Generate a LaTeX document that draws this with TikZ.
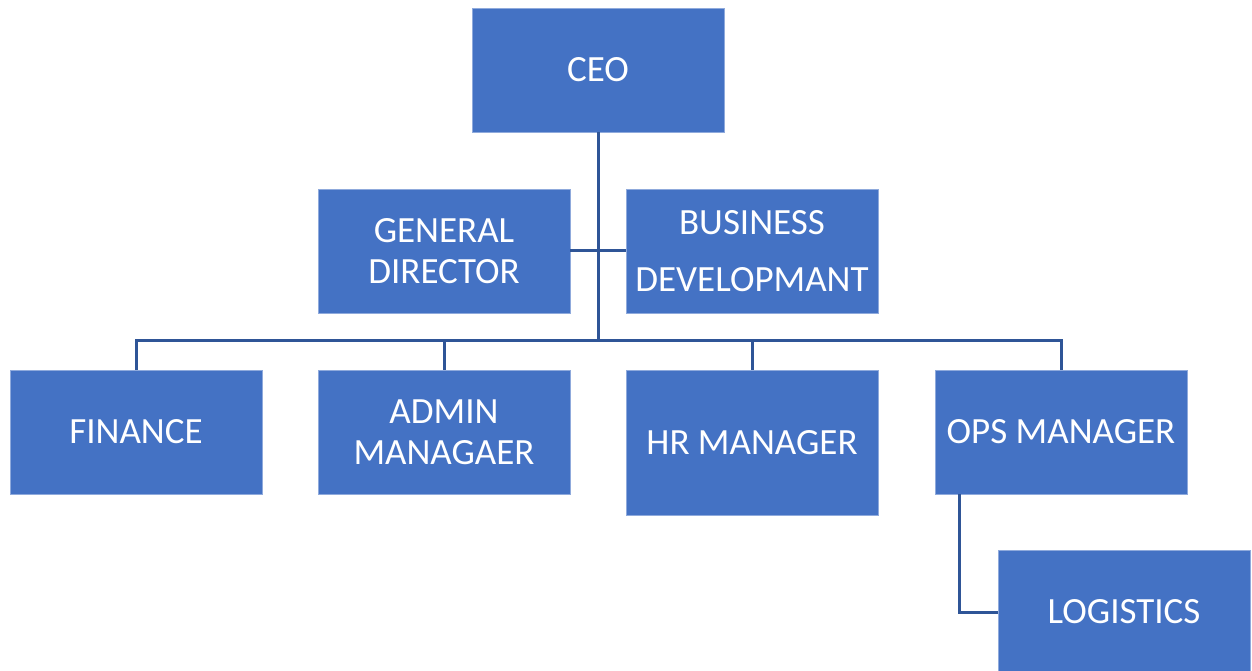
\documentclass[tikz,border=0pt]{standalone}
\usepackage{fontspec}
\setmainfont{Carlito}
\definecolor{boxfill}{RGB}{68,114,196}
\definecolor{boxedge}{RGB}{143,170,220}
\definecolor{linec}{RGB}{47,85,151}
\begin{document}
\begin{tikzpicture}[x=1pt,y=1pt,
  orgbox/.style={fill=boxfill,draw=boxedge,line width=0.8pt,minimum width=252pt,minimum height=124pt,
    text=white,align=center,font=\fontsize{37}{41}\selectfont,inner sep=0pt},
  conn/.style={draw=linec,line width=3pt}]
\useasboundingbox (0,0) rectangle (1252,670);
\node[orgbox] (ceo) at (598,600) {CEO};
\node[orgbox] (gd) at (444,419) {GENERAL\\DIRECTOR};
\node[orgbox,font=\fontsize{37}{57}\selectfont] (bd) at (752,419) {BUSINESS\\DEVELOPMANT};
\node[orgbox] (fin) at (136,238) {FINANCE};
\node[orgbox] (adm) at (444,238) {ADMIN\\MANAGAER};
\node[orgbox,minimum height=145pt] (hr) at (752,227.5) {HR MANAGER};
\node[orgbox] (ops) at (1061,238) {OPS MANAGER};
\node[orgbox] (log) at (1124,58) {LOGISTICS};
\coordinate (hub) at (598,329);
\draw[conn] (ceo.south) -- (hub);
\draw[conn] (gd.east) -- (bd.west);
\draw[conn] (fin.north) -- (136,329) -- (1061,329) -- (ops.north);
\draw[conn] (adm.north) -- (444,329);
\draw[conn] (hr.north) -- (752,329);
\draw[conn] (959,176) |- (log.west);
\end{tikzpicture}
\end{document}
